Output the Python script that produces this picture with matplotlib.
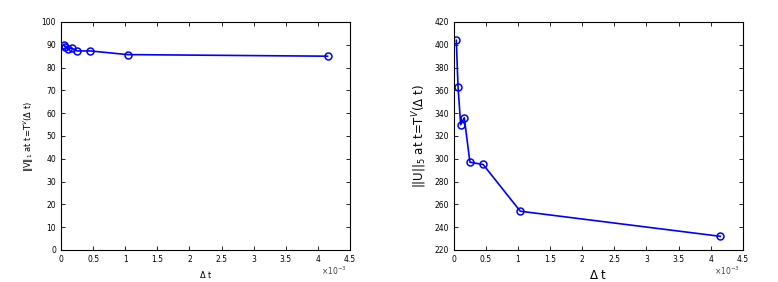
import matplotlib
matplotlib.use("Agg")
import matplotlib.pyplot as plt

dt = [0.04, 0.067, 0.108, 0.164, 0.252, 0.458, 1.036, 4.15]
v_norm = [90.0, 89.0, 88.0, 88.6, 87.3, 87.3, 85.7, 85.0]
u_norm = [404, 363, 330, 336, 297, 295, 254, 232]

fig = plt.figure(figsize=(7.78, 2.82), dpi=100)
ax1 = fig.add_axes([0.0784, 0.1135, 0.3715, 0.8085])
ax2 = fig.add_axes([0.5832, 0.1135, 0.3715, 0.8085])

for ax, y, ylim, yt, lab, fs in [
    (ax1, v_norm, (0, 100), range(0, 101, 10), r"$\|$V$\|_1$ at t=T$^V$($\Delta$ t)", 6),
    (ax2, u_norm, (220, 420), range(220, 421, 20), r"||U||$_5$ at t=T$^V$($\Delta$ t)", 8.5),
]:
    ax.plot(dt, y, color="#0000ff", lw=1.2, marker="o", mfc="none", mec="#0000ff",
            ms=5, mew=1.1)
    ax.set_xlim(0, 4.5)
    ax.set_ylim(*ylim)
    ax.set_yticks(list(yt))
    ax.set_xticks([0, 0.5, 1, 1.5, 2, 2.5, 3, 3.5, 4, 4.5])
    ax.set_xticklabels(["0", "0.5", "1", "1.5", "2", "2.5", "3", "3.5", "4", "4.5"])
    ax.tick_params(direction="in", top=True, right=True, labelsize=5.5, length=3, width=0.6)
    for s in ax.spines.values():
        s.set_linewidth(0.8)
    ax.set_ylabel(lab, fontsize=fs, labelpad=4)
    ax.set_xlabel(r"$\Delta$ t", fontsize=fs, labelpad=4)
    ax.text(0.99, -0.065, r"$\times10^{-3}$", transform=ax.transAxes, fontsize=5.5,
            ha="right", va="top", color="#444444")

fig.savefig("out.png", dpi=100)
